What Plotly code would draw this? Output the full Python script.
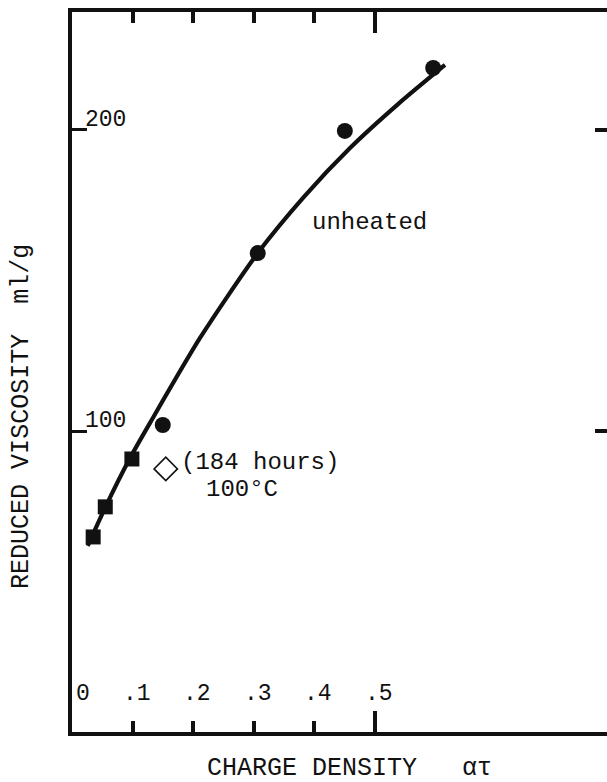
import plotly.graph_objects as go

# ---- data ----
x_tick_vals = [0, 0.1, 0.2, 0.3, 0.4, 0.5]
x_tick_labels = ["0", ".1", ".2", ".3", ".4", ".5"]
y_tick_vals = [100, 200]
y_tick_labels = ["100", "200"]

square_x = [0.035, 0.055, 0.099]
square_y = [64.8, 74.8, 90.7]
circle_x = [0.150, 0.307, 0.451, 0.597]
circle_y = [102.0, 159.1, 199.7, 220.6]
heated_x = [0.155]
heated_y = [87.4]
curve_x = [0.026, 0.0545, 0.0959, 0.129, 0.2116, 0.307, 0.383, 0.4595, 0.539, 0.6165]
curve_y = [61.8, 74.4, 91.0, 102.7, 130.9, 159.1, 177.7, 194.0, 208.6, 221.6]

X_RANGE = [0, 0.8843]
Y_RANGE = [0, 239.2]
FONT = "Liberation Mono, Courier New, monospace"
INK = "#111111"

fig = go.Figure()

fig.add_trace(go.Scatter(x=curve_x, y=curve_y, mode="lines",
                         line=dict(color=INK, width=4.2, shape="spline", smoothing=0.7),
                         hoverinfo="skip", showlegend=False))
fig.add_trace(go.Scatter(x=square_x, y=square_y, mode="markers",
                         marker=dict(symbol="square", size=15, color=INK),
                         showlegend=False))
fig.add_trace(go.Scatter(x=circle_x, y=circle_y, mode="markers",
                         marker=dict(symbol="circle", size=16, color=INK),
                         showlegend=False))
fig.add_trace(go.Scatter(x=heated_x, y=heated_y, mode="markers",
                         marker=dict(symbol="diamond-open", size=18, color=INK,
                                     line=dict(width=1.6, color=INK)),
                         showlegend=False))
# invisible trace to carry the right-hand tick axis
fig.add_trace(go.Scatter(x=[None], y=[None], yaxis="y2", mode="markers",
                         showlegend=False, hoverinfo="skip"))

annotations = []
# x tick labels (inside the frame)
for v, t in zip(x_tick_vals, x_tick_labels):
    annotations.append(dict(x=v, y=0, xref="x", yref="y", text=t, showarrow=False,
                            xanchor="right", yanchor="middle", xshift=20, yshift=38,
                            font=dict(family=FONT, size=23, color=INK)))
# y tick labels (inside the frame, above the ticks)
for v, t in zip(y_tick_vals, y_tick_labels):
    annotations.append(dict(x=0, y=v, xref="x", yref="y", text=t, showarrow=False,
                            xanchor="left", yanchor="middle", xshift=11, yshift=10,
                            font=dict(family=FONT, size=23, color=INK)))
# curve labels
annotations += [
    dict(x=0.393, y=169.4, xref="x", yref="y", text="unheated", showarrow=False,
         xanchor="left", yanchor="middle", font=dict(family=FONT, size=24, color=INK)),
    dict(x=0.177, y=89.4, xref="x", yref="y", text="(184 hours)", showarrow=False,
         xanchor="left", yanchor="middle", font=dict(family=FONT, size=24, color=INK)),
    dict(x=0.218, y=80.4, xref="x", yref="y", text="100°C", showarrow=False,
         xanchor="left", yanchor="middle", font=dict(family=FONT, size=24, color=INK)),
    # axis titles
    dict(x=0.2486, y=-0.05, xref="paper", yref="paper",
         text="CHARGE DENSITY\u00a0\u00a0\u00a0ατ", showarrow=False,
         xanchor="left", yanchor="middle", font=dict(family=FONT, size=25, color=INK)),
    dict(x=-0.0935, y=0.439, xref="paper", yref="paper",
         text="REDUCED VISCOSITY\u00a0\u00a0ml/g", showarrow=False, textangle=-90,
         xanchor="center", yanchor="middle", font=dict(family=FONT, size=25, color=INK)),
]

fig.update_layout(
    width=607, height=782,
    margin=dict(l=72, r=0, t=12, b=50),
    paper_bgcolor="white", plot_bgcolor="white",
    showlegend=False,
    annotations=annotations,
    xaxis=dict(range=X_RANGE, showgrid=False, zeroline=False,
               showline=True, linecolor=INK, linewidth=3.5, mirror="ticks",
               ticks="inside", tickmode="array", tickvals=[0.5], ticklen=21,
               tickwidth=3.5, tickcolor=INK, showticklabels=False,
               minor=dict(tickmode="array", tickvals=[0.1, 0.2, 0.3, 0.4],
                          ticks="inside", ticklen=11, tickwidth=3.5, tickcolor=INK,
                          showgrid=False)),
    yaxis=dict(range=Y_RANGE, showgrid=False, zeroline=False,
               showline=True, linecolor=INK, linewidth=3.5,
               ticks="inside", tickmode="array", tickvals=y_tick_vals, ticklen=15,
               tickwidth=3, tickcolor=INK, showticklabels=False),
    yaxis2=dict(range=Y_RANGE, overlaying="y", side="right", showgrid=False,
                zeroline=False, showline=False, ticks="inside", tickmode="array",
                tickvals=y_tick_vals, ticklen=12, tickwidth=4, tickcolor=INK,
                showticklabels=False),
)

fig.write_html(
    "out.html",
    config={"displayModeBar": False},
    post_script="document.body.style.margin='0';document.body.style.overflow='hidden';",
)
